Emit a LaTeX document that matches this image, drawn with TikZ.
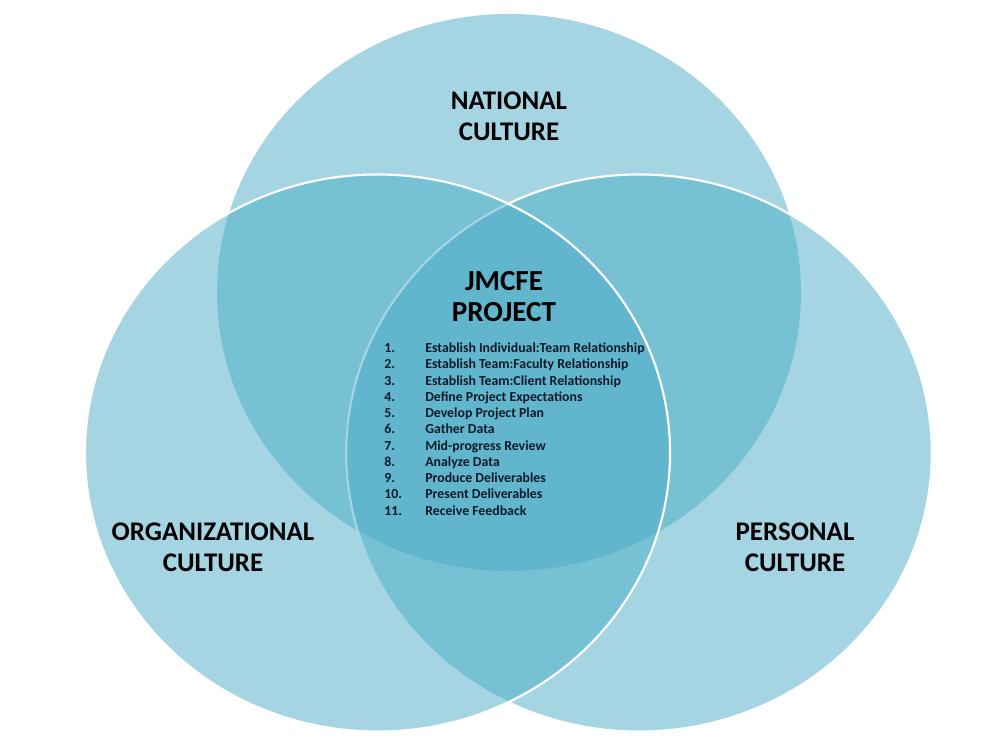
\documentclass[tikz,border=0pt]{standalone}
\usepackage{fontspec}
\setmainfont{Carlito}
\definecolor{vennblue}{HTML}{4BACC6}
\definecolor{listink}{HTML}{101A28}
\begin{document}
\begin{tikzpicture}[x=0.75pt,y=-0.75pt,
  setcircle/.style={fill=vennblue,fill opacity=0.5},
  rimline/.style={draw=white,line width=1.6pt},
  heading/.style={font=\bfseries\fontsize{20.2}{23.5}\selectfont,align=center,text=black,inner sep=0pt},
  core/.style={font=\bfseries\fontsize{21.8}{23.5}\selectfont,align=center,text=black,inner sep=0pt},
  steps/.style={font=\bfseries\fontsize{10.35}{12.2}\selectfont,align=left,text=listink,inner sep=0pt,anchor=north west}]
\useasboundingbox (0,0) rectangle (1000,743);
% circles: national (top), personal (right), organizational (left)
\path[setcircle] (509,292.5) ellipse [x radius=219pt, y radius=208.9pt];
\path[setcircle,rimline] (639,453) ellipse [x radius=219.6pt, y radius=208.9pt];
\path[setcircle,rimline] (377.5,453) ellipse [x radius=219.4pt, y radius=208.9pt];
% labels
\node[heading] (national) at (509,116) {NATIONAL\\CULTURE};
\node[heading] (organizational) at (213,547.5) {ORGANIZATIONAL\\CULTURE};
\node[heading] (personal) at (795,547.5) {PERSONAL\\CULTURE};
\node[core] (project) at (504,296.5) {JMCFE\\PROJECT};
\node[steps] (steplist) at (384,342.5) {%
\makebox[30.75pt][l]{1.}Establish Individual:Team Relationship\\
\makebox[30.75pt][l]{2.}Establish Team:Faculty Relationship\\
\makebox[30.75pt][l]{3.}Establish Team:Client Relationship\\
\makebox[30.75pt][l]{4.}Define Project Expectations\\
\makebox[30.75pt][l]{5.}Develop Project Plan\\
\makebox[30.75pt][l]{6.}Gather Data\\
\makebox[30.75pt][l]{7.}Mid-progress Review\\
\makebox[30.75pt][l]{8.}Analyze Data\\
\makebox[30.75pt][l]{9.}Produce Deliverables\\
\makebox[30.75pt][l]{10.}Present Deliverables\\
\makebox[30.75pt][l]{11.}Receive Feedback};
\end{tikzpicture}
\end{document}
